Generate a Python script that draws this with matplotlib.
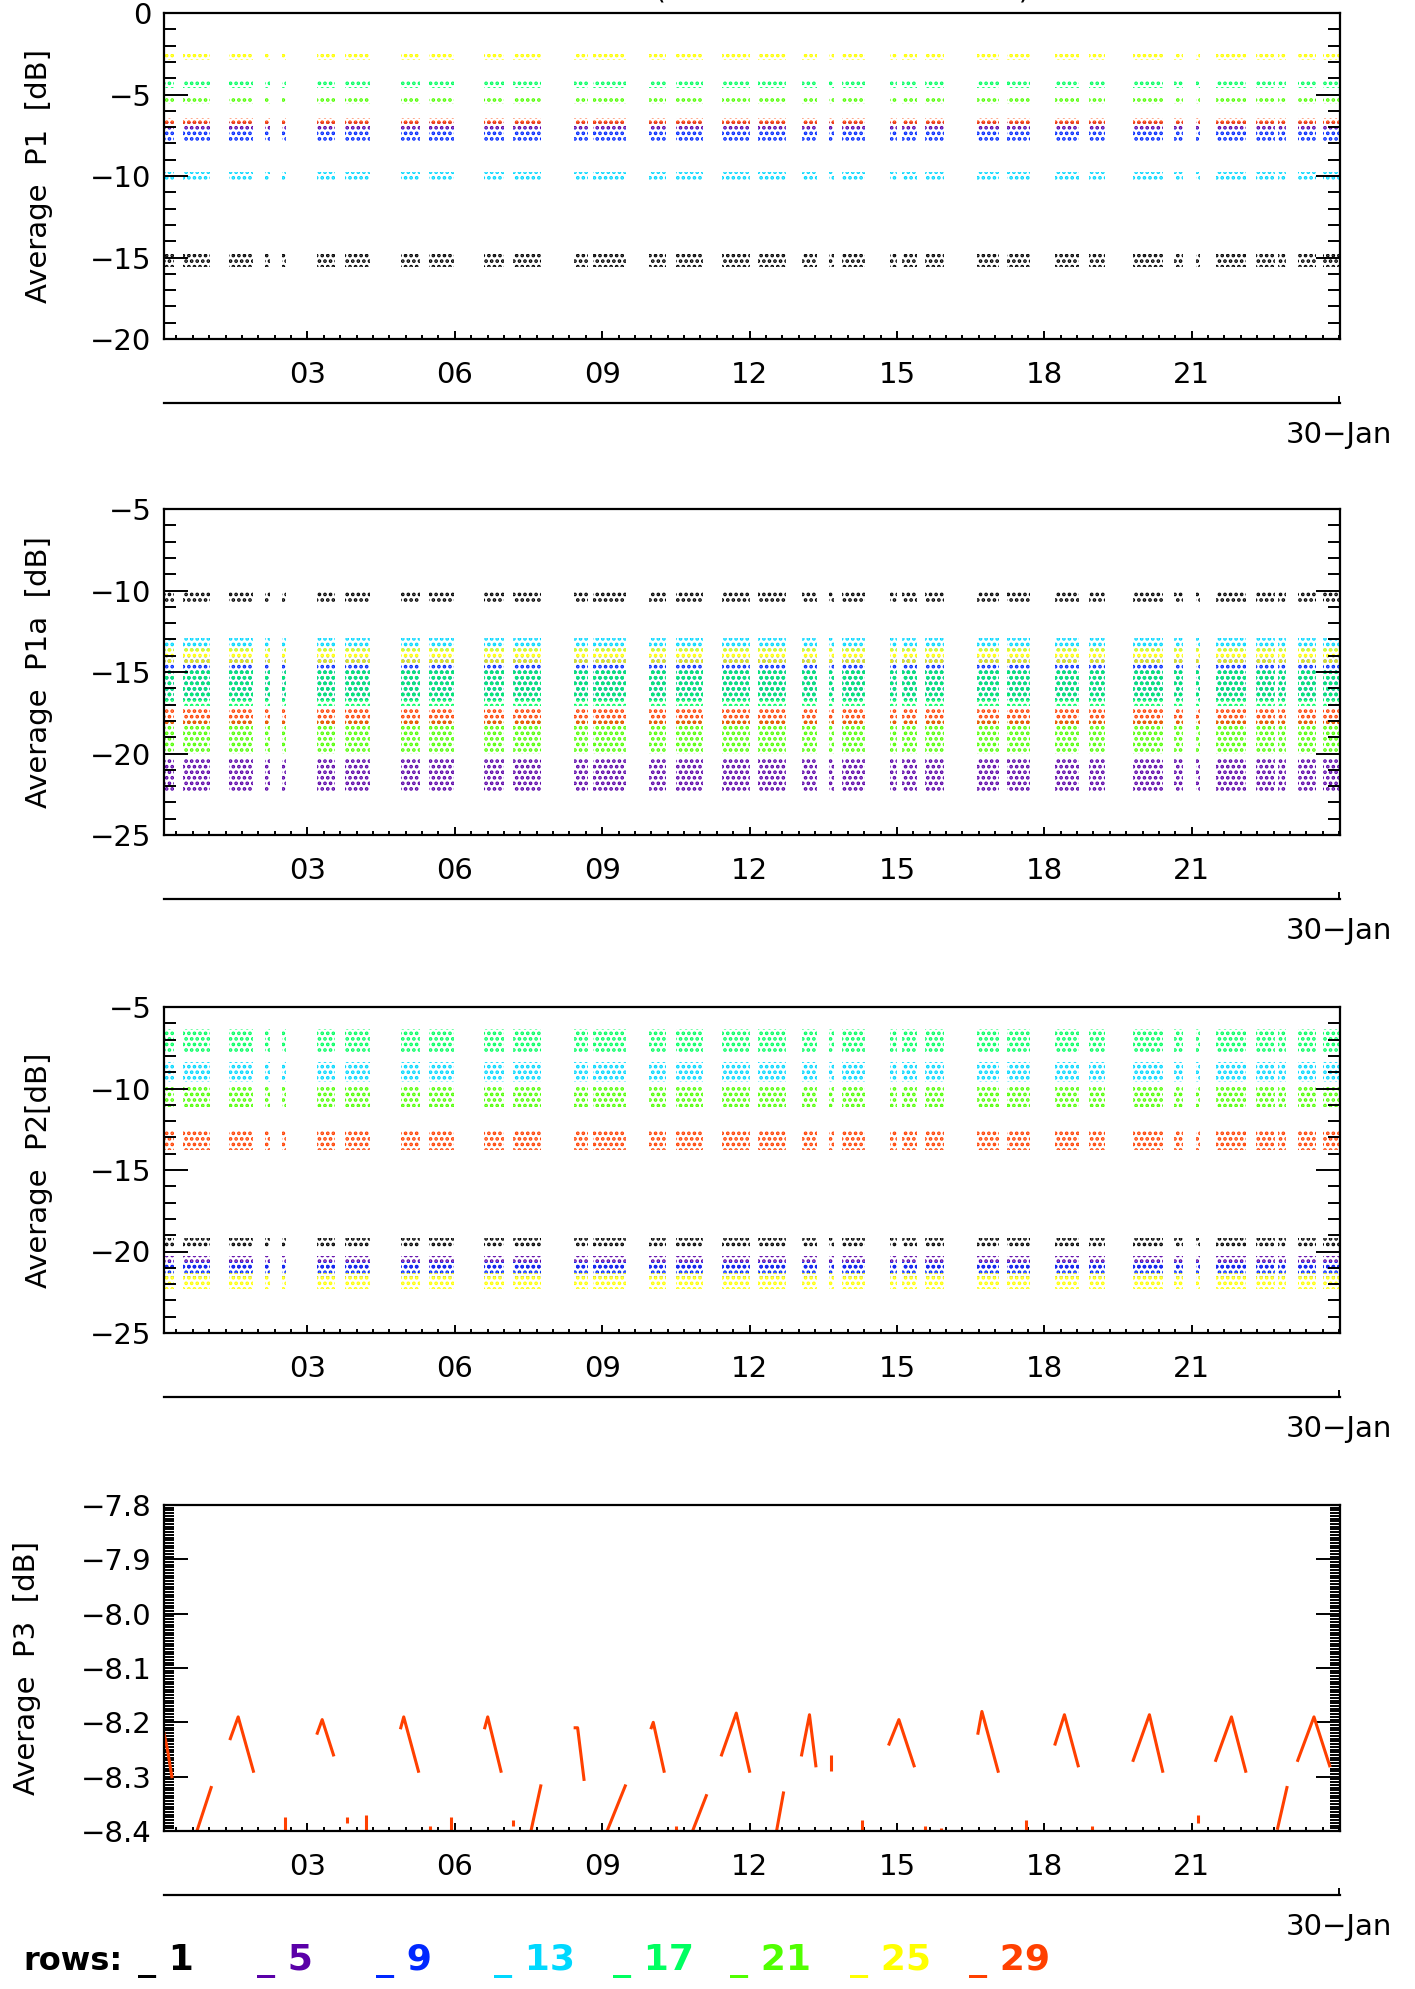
import numpy as np
import matplotlib
matplotlib.use('Agg')
import matplotlib.pyplot as plt
from matplotlib.ticker import MultipleLocator, FixedLocator, FuncFormatter

plt.rcParams['font.family'] = 'DejaVu Sans'
plt.rcParams['hatch.linewidth'] = 1.8

# antenna rows and their colours
rows = [1, 5, 9, 13, 17, 21, 25, 29]
row_colors = ['#000000', '#5a00a8', '#0028ff', '#00d8ff', '#00ff60', '#50ff00', '#ffff00', '#ff4000']

# measurement segments (hours of the day before 30-Jan)
seg_start = [0.08, 0.47, 1.41, 2.14, 2.49, 3.20, 3.77, 4.90, 5.47, 6.59, 7.18,
             8.43, 8.81, 9.96, 10.51, 11.43, 12.18, 13.06, 13.61, 13.88, 14.86,
             15.10, 15.57, 16.63, 17.24, 18.22, 18.92, 19.80, 20.65, 21.08, 21.49,
             22.30, 22.75, 23.16, 23.67]
seg_end = [0.28, 1.02, 1.90, 2.24, 2.57, 3.57, 4.28, 5.30, 5.98, 7.00, 7.75,
           8.71, 9.49, 10.30, 11.06, 12.00, 12.75, 13.37, 13.71, 14.35, 15.00,
           15.41, 15.96, 17.08, 17.71, 18.71, 19.24, 20.41, 20.82, 21.16, 22.10,
           22.69, 22.92, 23.53, 24.02]

# typical level and half spread of each row [dB]
p1_level = [-15.2, -6.9, -7.5, -10.0, -4.4, -5.4, -2.7, -6.6]
p1_spread = [0.4, 0.2, 0.4, 0.25, 0.2, 0.2, 0.18, 0.18]
p1a_level = [-10.4, -21.3, -15.4, -13.3, -16.0, -19.0, -14.0, -17.8]
p1a_spread = [0.35, 1.0, 1.3, 0.4, 1.1, 1.0, 0.6, 0.5]
p2_level = [-19.5, -20.7, -21.1, -9.0, -7.1, -10.5, -21.8, -13.2]
p2_spread = [0.3, 0.45, 0.45, 0.6, 0.75, 0.65, 0.5, 0.6]

# P3 (row 29 only): arcs, rising streaks and small bits
p3_arc_t = [[0.08, 0.15, 0.24], [1.43, 1.59, 1.90], [3.20, 3.30, 3.53], [4.90, 4.96, 5.26],
            [6.61, 6.67, 6.94], [8.45, 8.50, 8.63], [10.00, 10.04, 10.26], [11.43, 11.73, 12.00],
            [13.06, 13.22, 13.35], [14.84, 15.04, 15.35], [16.65, 16.73, 17.06],
            [18.22, 18.41, 18.69], [19.81, 20.14, 20.41], [21.49, 21.81, 22.10],
            [23.16, 23.49, 23.81]]
p3_arc_v = [[-8.22, -8.25, -8.30], [-8.23, -8.19, -8.29], [-8.22, -8.195, -8.26], [-8.21, -8.19, -8.29],
            [-8.21, -8.19, -8.29], [-8.21, -8.21, -8.305], [-8.21, -8.20, -8.29], [-8.26, -8.183, -8.29],
            [-8.26, -8.186, -8.28], [-8.24, -8.195, -8.28], [-8.22, -8.18, -8.29],
            [-8.24, -8.186, -8.28], [-8.27, -8.186, -8.29], [-8.27, -8.19, -8.29],
            [-8.27, -8.19, -8.28]]
p3_rise_t = [[0.75, 1.04], [7.55, 7.75], [9.10, 9.47], [10.84, 11.12], [12.55, 12.69], [22.75, 22.94]]
p3_rise_v = [[-8.40, -8.32], [-8.40, -8.317], [-8.40, -8.317], [-8.40, -8.335], [-8.40, -8.33], [-8.395, -8.32]]
p3_bit_t = [2.54, 3.81, 4.20, 5.49, 5.92, 7.18, 10.51, 13.66, 14.28, 15.57, 15.90, 17.63, 18.98, 21.12]
p3_bit_lo = [-8.40, -8.385, -8.40, -8.40, -8.40, -8.39, -8.40, -8.29, -8.40, -8.40, -8.40, -8.40, -8.40, -8.385]
p3_bit_hi = [-8.375, -8.375, -8.37, -8.39, -8.375, -8.38, -8.39, -8.26, -8.38, -8.39, -8.395, -8.38, -8.39, -8.37]

hour_ticks = [3, 6, 9, 12, 15, 18, 21]
hour_labels = ['03', '06', '09', '12', '15', '18', '21']

W, H = 1415, 1989
fig = plt.figure(figsize=(W / 100, H / 100), dpi=100)


def make_axes(top_px):
    ax = fig.add_axes([164 / W, 1 - (top_px + 326) / H, 1176 / W, 326 / H])
    ax.set_xlim(0.08, 24.02)
    ax.xaxis.set_major_locator(FixedLocator(hour_ticks))
    ax.set_xticklabels(hour_labels)
    ax.xaxis.set_minor_locator(MultipleLocator(1 / 3))
    ax.tick_params(axis='x', which='major', direction='in', length=6, width=1.4,
                   top=True, labelsize=21, pad=16)
    ax.tick_params(axis='x', which='minor', direction='in', length=3, width=1.4, top=True)
    ax.tick_params(axis='y', which='major', direction='in', length=17, width=1.4,
                   right=True, labelsize=21, pad=9)
    ax.tick_params(axis='y', which='minor', direction='in', length=8.5, width=1.4, right=True)
    for s in ax.spines.values():
        s.set_linewidth(1.6)
    # date axis below the hours axis
    ax_d = ax.twiny()
    ax_d.set_xlim(0.08, 24.02)
    ax_d.xaxis.set_ticks_position('bottom')
    ax_d.xaxis.set_label_position('bottom')
    for k in ['top', 'left', 'right']:
        ax_d.spines[k].set_visible(False)
    ax_d.spines['bottom'].set_position(('outward', 46))
    ax_d.spines['bottom'].set_linewidth(1.6)
    ax_d.set_xticks([24])
    ax_d.set_xticklabels(['30\u2212Jan'])
    ax_d.tick_params(axis='x', direction='in', length=5, width=1.4, labelsize=21, pad=13)
    return ax


def draw_bands(ax, levels, spreads, hatch):
    xr = [(s, e - s) for s, e in zip(seg_start, seg_end)]
    for k in range(len(rows)):
        lo = levels[k] - spreads[k]
        ax.broken_barh(xr, (lo, 2 * spreads[k]), facecolors='none',
                       edgecolors=row_colors[k], linewidth=0, hatch=hatch)


# P1
ax1 = make_axes(13)
ax1.set_ylim(-20, 0)
ax1.yaxis.set_major_locator(MultipleLocator(5))
ax1.yaxis.set_minor_locator(MultipleLocator(1))
draw_bands(ax1, p1_level, p1_spread, '...')
ax1.set_ylabel('Average  P1  [dB]', fontsize=21)
ax1.yaxis.set_label_coords(-0.094, 0.5)

# P1a
ax2 = make_axes(509)
ax2.set_ylim(-25, -5)
ax2.yaxis.set_major_locator(MultipleLocator(5))
ax2.yaxis.set_minor_locator(MultipleLocator(1))
draw_bands(ax2, p1a_level, p1a_spread, '...')
ax2.set_ylabel('Average  P1a  [dB]', fontsize=21)
ax2.yaxis.set_label_coords(-0.094, 0.5)

# P2
ax3 = make_axes(1007)
ax3.set_ylim(-25, -5)
ax3.yaxis.set_major_locator(MultipleLocator(5))
ax3.yaxis.set_minor_locator(MultipleLocator(1))
draw_bands(ax3, p2_level, p2_spread, '...')
ax3.set_ylabel('Average  P2[dB]', fontsize=21)
ax3.yaxis.set_label_coords(-0.094, 0.5)

# P3
ax4 = make_axes(1505)
ax4.set_ylim(-8.4, -7.8)
ax4.yaxis.set_major_locator(MultipleLocator(0.1))
ax4.yaxis.set_minor_locator(MultipleLocator(0.005))
ax4.yaxis.set_major_formatter(FuncFormatter(lambda v, p: ('%.1f' % v).replace('-', '\u2212')))
ax4.tick_params(axis='y', which='minor', length=7)
for t, v in zip(p3_arc_t, p3_arc_v):
    ax4.plot(t, v, color=row_colors[7], lw=2.2)
for t, v in zip(p3_rise_t, p3_rise_v):
    ax4.plot(t, v, color=row_colors[7], lw=2.2)
ax4.vlines(p3_bit_t, p3_bit_lo, p3_bit_hi, color=row_colors[7], lw=2.2)
ax4.set_ylabel('Average  P3  [dB]', fontsize=21)
ax4.yaxis.set_label_coords(-0.105, 0.5)

# title, mostly above the page (only its lowest strokes show)
fig.text(842 / W, 1 - 4 / H, '(mean of all antenna rows)', ha='center', va='bottom', fontsize=20)

# legend of rows
fig.text(23 / W, 1 - 1970 / H, 'rows:', fontsize=23, fontweight='bold', va='baseline')
legend_x = [138, 257, 376, 494, 613, 730, 850, 969]
for r, c, x in zip(rows, row_colors, legend_x):
    fig.text(x / W, 1 - 1970 / H, '_ ' + str(r), color=c, fontsize=26,
             fontweight='bold', va='baseline')

fig.savefig('out.png', dpi=100)
